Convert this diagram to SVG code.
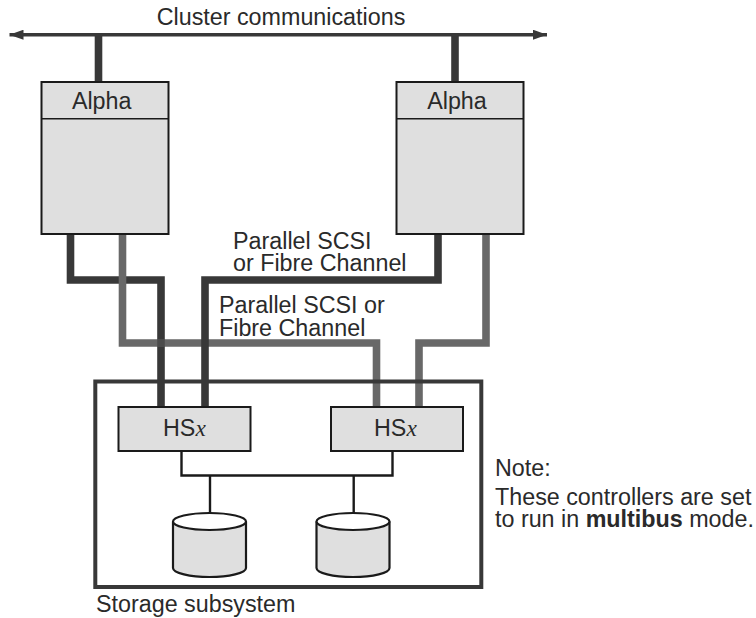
<svg xmlns="http://www.w3.org/2000/svg" width="756" height="618" viewBox="0 0 756 618">
<style>
text{font-family:"Liberation Sans",Arial,sans-serif;font-size:23.300px;fill:#2a2a2a}
.box{fill:#dfdfdf;stroke:#1a1a1a;stroke-width:2}
.thin{fill:none;stroke:#1a1a1a;stroke-width:2.4}
.dark{fill:none;stroke:#383838;stroke-width:7.600}
.gray{fill:none;stroke:#686868;stroke-width:7.600}
.disk{fill:#dfdfdf;stroke:#1a1a1a;stroke-width:2.2}
.top{fill:#fff;stroke:#1a1a1a;stroke-width:2.2}
</style>
<defs>
<marker id="ah" viewBox="0 0 14 10" refX="14" refY="5" markerWidth="14" markerHeight="10" markerUnits="userSpaceOnUse" orient="auto-start-reverse"><path d="M0 0L14 5L0 10Z" fill="#383838"/></marker>
</defs>
<text x="281" y="25" text-anchor="middle" id="t-cluster">Cluster communications</text>
<g id="connectors">
<path d="M9.500 34.700H547" fill="none" stroke="#383838" stroke-width="3.600" marker-start="url(#ah)" marker-end="url(#ah)"/>
<path class="dark" d="M98.500 35V82"/>
<path class="dark" d="M455 35V82"/>
<path class="dark" d="M70.500 234V280H161V407"/>
<path class="gray" d="M122.500 234V343H376.500V407"/>
<path class="gray" d="M486 234V343H419V407"/>
<path class="dark" d="M438 234V280H205V407"/>
<path d="M161 339.200V346.800" fill="none" stroke="#383838" stroke-width="7.600" stroke-opacity=".6"/>
<path class="thin" d="M181.500 451V475.500H392.500V451"/>
<path class="thin" d="M210 475V513"/>
<path class="thin" d="M353.700 475V513"/>
</g>
<g id="storage"><rect x="95.300" y="381.500" width="386" height="205.500" fill="none" stroke="#383838" stroke-width="4"/><text x="96" y="612">Storage subsystem</text></g>
<g id="alpha1"><rect class="box" x="41.500" y="82" width="127" height="152"/><path d="M42 118.700H168" stroke="#1a1a1a" stroke-width="1.500"/><text x="101.700" y="108.500" text-anchor="middle">Alpha</text></g>
<g id="alpha2"><rect class="box" x="396.500" y="82" width="127" height="152"/><path d="M397 118.700H523" stroke="#1a1a1a" stroke-width="1.500"/><text x="457" y="108.500" text-anchor="middle">Alpha</text></g>
<g id="hs1"><rect class="box" x="118.500" y="407" width="132" height="44"/><text x="163" y="436">HS<tspan font-family="Liberation Serif" font-style="italic">x</tspan></text></g>
<g id="hs2"><rect class="box" x="331" y="407" width="132" height="44"/><text x="374" y="436">HS<tspan font-family="Liberation Serif" font-style="italic">x</tspan></text></g>
<g id="disk1"><path class="disk" d="M173 521.500V568C173 573 190 577 209.500 577S246 573 246 568V521.500"/><ellipse class="top" cx="209.500" cy="521.500" rx="36.500" ry="8.500"/></g>
<g id="disk2"><path class="disk" d="M316.500 521.500V568C316.500 573 333 577 353 577S389.500 573 389.500 568V521.500"/><ellipse class="top" cx="353" cy="521.500" rx="36.500" ry="8.500"/></g>
<g id="labels">
<text x="233" y="249">Parallel SCSI</text>
<text x="233" y="271">or Fibre Channel</text>
<text x="219" y="313">Parallel SCSI or</text>
<text x="219" y="336">Fibre Channel</text>
<text x="495" y="476">Note:</text>
<text x="495" y="505">These controllers are set</text>
<text x="495" y="527">to run in <tspan font-weight="bold">multibus</tspan> mode.</text>
</g>
</svg>
